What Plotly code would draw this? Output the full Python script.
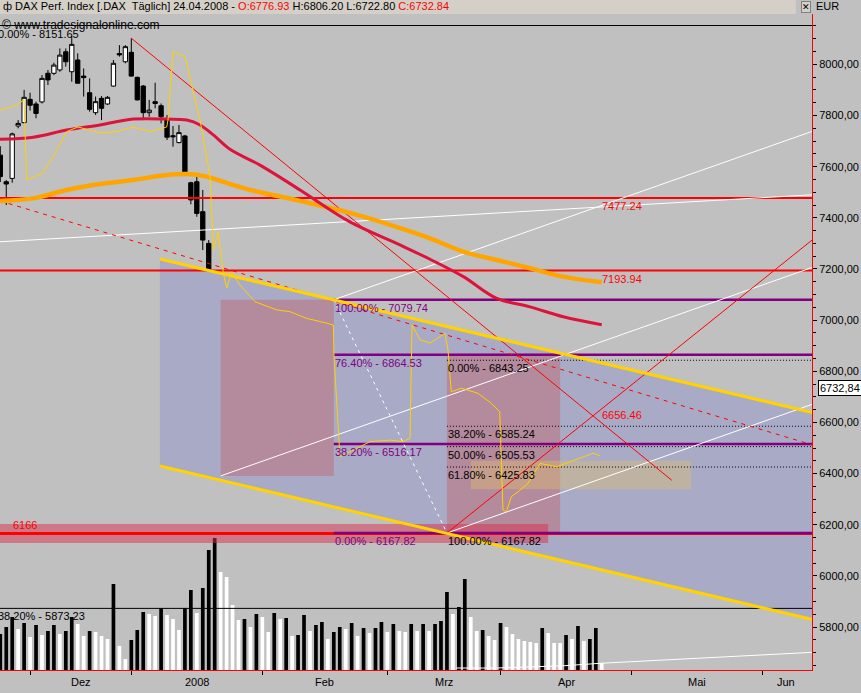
import plotly.graph_objects as go

# ---------------- data (trading-day index 0 = 26.11.2007 ... 101 = 24.04.2008) ----------------
opens = [7645, 7541, 7554, 7759, 7772, 7863, 7845, 7853, 7965, 7965,
         7978, 8049, 7971, 8017, 7954, 7889, 7811, 7867, 7845, 7915,
         8042, 8010, 8047, 7949, 7915, 7811, 7854, 7838, 7782, 7721,
         7694, 7720, 7537, 7541, 7424, 7300, 6597, 6818, 6551, 6890,
         6753, 6838, 6892, 6861, 6896, 7024, 7004, 6730, 6834, 6782,
         6727, 6796, 6916, 7029, 6972, 6870, 6935, 6935, 6935, 6896,
         6855, 6909, 7016, 6990, 6857, 6690, 6698, 6584, 6681, 6558,
         6492, 6469, 6577, 6538, 6505, 6366, 6242, 6434, 6336, 6453,
         6512, 6490, 6586, 6542, 6440, 6753, 6773, 6758, 6835, 6799,
         6756, 6714, 6740, 6571, 6535, 6625, 6720, 6707, 6847, 6792,
         6740, 6776.93]
highs = [7680, 7548, 7733, 7782, 7900, 7889, 7854, 7958, 7978, 8006,
         8062, 8062, 8111, 8043, 7984, 7945, 7874, 7876, 7876, 8017,
         8075, 8075, 8102, 7952, 7919, 7861, 7928, 7847, 7802, 7759,
         7763, 7724, 7541, 7561, 7509, 7313, 6883, 6890, 6864, 7007,
         6831, 6935, 6925, 6975, 7007, 7059, 7007, 6883, 6864, 6851,
         6805, 6981, 6988, 7059, 6988, 6994, 7079.74, 6968, 6968, 6896,
         6922, 7016, 7024, 6998, 6870, 6707, 6707, 6707, 6688, 6564,
         6545, 6577, 6668, 6629, 6629, 6371, 6469, 6466, 6382, 6538,
         6581, 6610, 6623, 6545, 6730, 6805, 6786, 6790, 6843.25, 6818,
         6792, 6792, 6740, 6590, 6590, 6714, 6746, 6851, 6851, 6825,
         6812, 6806.20]
lows = [7540, 7450, 7537, 7750, 7769, 7819, 7789, 7847, 7919, 7958,
        7971, 7991, 7932, 7926, 7874, 7815, 7802, 7782, 7841, 7913,
        8030, 8004, 7952, 7858, 7782, 7795, 7828, 7769, 7704, 7678,
        7691, 7574, 7453, 7404, 7274, 6788, 6427, 6391, 6545, 6786,
        6681, 6825, 6825, 6694, 6894, 6981, 6763, 6728, 6659, 6675,
        6703, 6746, 6909, 6961, 6831, 6868, 6930, 6864, 6883, 6766,
        6844, 6909, 6883, 6864, 6714, 6551, 6545, 6558, 6545, 6518,
        6414, 6466, 6518, 6427, 6421, 6167.82, 6238, 6290, 6277, 6449,
        6469, 6466, 6473, 6434, 6430, 6746, 6694, 6700, 6790, 6740,
        6675, 6610, 6571, 6518, 6518, 6603, 6675, 6701, 6760, 6701,
        6662, 6722.80]
closes = [7561, 7532, 7728, 7769, 7871, 7840, 7808, 7945, 7939, 7997,
          8036, 8010, 8078, 7926, 7948, 7824, 7854, 7828, 7871, 8004,
          8037, 8069, 7954, 7861, 7811, 7821, 7847, 7795, 7715, 7717,
          7733, 7580, 7470, 7417, 7313, 6792, 6773, 6443, 6825, 6818,
          6825, 6896, 6877, 6853, 6972, 7001, 6766, 6851, 6736, 6769,
          6746, 6972, 6978, 6964, 6834, 6975, 7007, 6903, 6907, 6805,
          6883, 6988, 7001, 6870, 6753, 6675, 6547, 6688, 6577, 6525,
          6453, 6558, 6610, 6499, 6453, 6182, 6427, 6362, 6323, 6515,
          6488, 6586, 6560, 6534, 6720, 6782, 6740, 6768, 6800, 6740,
          6727, 6690, 6610, 6558, 6550, 6707, 6688, 6847, 6792, 6733,
          6799, 6732.84]

volume = [36, 43, 53, 41, 47, 33, 45, 35, 39, 45,
          36, 39, 53, 46, 34, 39, 38, 34, 31, 86,
          24, 11, 30, 40, 58, 56, 54, 62, 55, 51,
          40, 62, 80, 57, 82, 120, 132, 98, 93, 65,
          50, 51, 43, 56, 53, 38, 57, 51, 52, 34,
          35, 55, 39, 45, 48, 31, 38, 43, 41, 47,
          34, 42, 37, 42, 48, 38, 46, 39, 38, 46,
          39, 46, 39, 46, 49, 78, 56, 63, 91, 53,
          39, 40, 34, 30, 47, 43, 36, 31, 29, 28,
          27, 42, 37, 27, 27, 35, 31, 44, 29, 31,
          42, 7]
vol_up = [0, 0, 0, 1, 0, 1, 0, 1, 0, 0,
          1, 0, 0, 1, 1, 0, 1, 1, 1, 0,
          1, 1, 0, 0, 0, 1, 1, 0, 1, 1,
          1, 0, 0, 1, 0, 0, 0, 1, 1, 1,
          1, 0, 1, 0, 1, 1, 0, 1, 0, 1,
          0, 0, 1, 0, 0, 1, 0, 0, 1, 0,
          1, 0, 1, 0, 0, 1, 0, 1, 1, 0,
          1, 0, 1, 0, 0, 0, 1, 0, 0, 1,
          1, 0, 1, 1, 0, 1, 1, 1, 1, 1,
          1, 0, 1, 1, 1, 0, 1, 0, 1, 0,
          0, 1]
vol_line_x = [76.5, 83.4, 94.8, 100.7, 136.5]
vol_line_y = [2, 2, 4.3, 6.7, 17.7]

# moving averages (index, value)
ma38_x = [-0.05, 5.54, 11.15, 16.74, 22.33, 27.94, 31.3, 33.54, 35.77, 38.57,
          43.61, 50.33, 58.72, 67.12, 72.16, 77.75, 83.36, 88.95, 94.54, 100.99]
ma38_y = [7707, 7715, 7743, 7763, 7786, 7786, 7782, 7763, 7724, 7668,
          7606, 7509, 7384, 7294, 7238, 7170, 7085, 7052, 7013, 6982]
ma200_x = [-0.05, 5.49, 11.15, 16.74, 22.28, 27.94, 31.3, 34.66, 38.57, 41.93,
           50.33, 58.72, 67.12, 72.16, 77.7, 83.36, 88.95, 94.49, 100.99]
ma200_y = [7466, 7476, 7509, 7532, 7548, 7567, 7571, 7561, 7532, 7509,
           7466, 7419, 7360, 7320, 7268, 7235, 7203, 7170, 7148]
ind_x = [-0.05, 2.75, 3.98, 4.43, 7.17, 8.85, 11.15, 13.05, 16.74, 19.55,
         22.28, 25.14, 27.94, 28.16, 29.0, 31.02, 33.54, 35.22, 35.8, 36.56,
         37.45, 38.02, 38.86, 40.25, 42.77, 46.42, 48.65, 51.45, 54.81, 55.92,
         56.04, 57.04, 62.08, 65.44, 67.62, 68.8, 69.14, 70.48, 72.16, 74.68,
         75.18, 75.73, 77.41, 80.22, 82.45, 83.86, 84.41, 84.97, 85.81, 86.94,
         88.61, 90.63, 93.43, 95.67, 99.58, 100.71]
ind_y = [7821, 7841, 7861, 7548, 7575, 7638, 7737, 7755, 7732, 7737,
         7755, 7737, 7755, 7782, 8049, 8030, 7782, 7561, 7274, 7345,
         7184, 7126, 7188, 7137, 7072, 7040, 7033, 7007, 6988, 6981,
         6857, 6466, 6525, 6531, 6525, 6538, 6981, 6923, 6910, 6949,
         6883, 6720, 6734, 6714, 6675, 6642, 6258, 6251, 6310, 6329,
         6362, 6440, 6427, 6447, 6480, 6469]

# drawings: horizontal levels
top_fib = [8151.65, 5873.23]
top_fib_txt = ["0.00% - 8151.65", "38.20% - 5873.23"]
res_levels = [7477.24, 7193.94]
support_level = 6166
fib1_levels = [7079.74, 6864.53, 6516.17, 6167.82]
fib1_txt = ["100.00% - 7079.74", "76.40% - 6864.53", "38.20% - 6516.17", "0.00% - 6167.82"]
fib2_levels = [6843.25, 6585.24, 6505.53, 6425.83, 6167.82]
fib2_txt = ["0.00% - 6843.25", "38.20% - 6585.24", "50.00% - 6505.53", "61.80% - 6425.83",
            "100.00% - 6167.82"]
fib1_start, fib2_start = 56, 75

# drawings: channels / trend lines as (index, price) endpoints
chan_x = [26.8, 140.0]
chan_upper = [7239, 6619]
chan_lower = [6430, 5810]
down_line_x, down_line_y = [22, 112.75], [8102, 6374]
up_line_x, up_line_y = [75, 140], [6167.82, 7382]
dash_line_x, dash_line_y = [-0.05, 140], [7466, 6487]
white_flat_x, white_flat_y = [-1, 140], [7305, 7495]
white_ch_x = [[37, 140], [56, 140], [75, 140]]
white_ch_y = [[6391, 7236], [7079.74, 7768], [6167.82, 6701]]
white_dash_x, white_dash_y = [56, 75], [7079.74, 6167.82]
box1_x, box1_y = [37, 56], [6391, 7080]
box2_x, box2_y = [75, 94], [6167.82, 6870]
tan_x, tan_y = [79, 116], [6339, 6450]
band_x, band_y = [-1, 92], [6129, 6203]
label_6656 = 6656.46

month_ticks = [5, 22, 44, 65, 84, 106, 128]
month_lbl_pos = [13.5, 33, 54.5, 74.5, 95, 117, 132]
month_lbl = ["Dez", "2008", "Feb", "Mrz", "Apr", "Mai", "Jun"]
price_ticks = [5800, 6000, 6200, 6400, 6600, 6800, 7000, 7200, 7400, 7600, 7800, 8000]

X_RANGE = [-0.05, 136.3]
P_RANGE = [5632.4, 8196.7]
V_RANGE = [0, 656]
FONT = "Liberation Sans"

idx = list(range(len(closes)))
fig = go.Figure()

def line(x, y, color, width=1, dash=None, shape=None):
    fig.add_trace(go.Scatter(x=x, y=y, mode="lines", yaxis="y2", hoverinfo="skip",
                             line=dict(color=color, width=width, dash=dash, shape=shape),
                             showlegend=False))

def rect(x, y, color):
    fig.add_trace(go.Scatter(x=[x[0], x[1], x[1], x[0], x[0]], y=[y[0], y[0], y[1], y[1], y[0]],
                             mode="lines", fill="toself", fillcolor=color, line=dict(width=0),
                             yaxis="y2", hoverinfo="skip", showlegend=False))

# volume (primary y)
fig.add_trace(go.Bar(x=idx, y=volume, width=0.62, yaxis="y",
                     marker=dict(color=["white" if u else "black" for u in vol_up], line=dict(width=0)),
                     showlegend=False, hoverinfo="skip"))
fig.add_trace(go.Scatter(x=vol_line_x, y=vol_line_y, mode="lines", yaxis="y",
                         line=dict(color="white", width=1), showlegend=False, hoverinfo="skip"))

# channel fill
fig.add_trace(go.Scatter(x=[chan_x[0], chan_x[1], chan_x[1], chan_x[0], chan_x[0]],
                         y=[chan_upper[0], chan_upper[1], chan_lower[1], chan_lower[0], chan_upper[0]],
                         mode="lines", fill="toself", fillcolor="#A9AAC6", line=dict(width=0),
                         yaxis="y2", hoverinfo="skip", showlegend=False))

# candles
fig.add_trace(go.Candlestick(x=idx, open=opens, high=highs, low=lows, close=closes, yaxis="y2",
                             increasing=dict(line=dict(color="black", width=1), fillcolor="white"),
                             decreasing=dict(line=dict(color="black", width=1), fillcolor="black"),
                             whiskerwidth=0, showlegend=False, hoverinfo="skip"))

# translucent boxes
rect(box1_x, box1_y, "rgba(200,79,81,0.35)")
rect(box2_x, box2_y, "rgba(200,79,81,0.35)")
rect(tan_x, tan_y, "rgba(222,190,110,0.40)")
rect(band_x, band_y, "rgba(218,48,78,0.5)")

# horizontal levels
for lv in top_fib:
    line([-1, 140], [lv, lv], "black", 1)
for lv in res_levels:
    line([-1, 140], [lv, lv], "#FF0000", 2)
line([-1, 140], [support_level, support_level], "#FF0000", 3)
for lv in fib1_levels:
    line([fib1_start, 140], [lv, lv], "#800080", 2.5)
for lv in fib2_levels[:-1]:
    line([fib2_start, 140], [lv, lv], "black", 1, "1px,2px")

# trend lines
line(white_flat_x, white_flat_y, "white", 1)
for xs, ys in zip(white_ch_x, white_ch_y):
    line(xs, ys, "white", 1)
line(white_dash_x, white_dash_y, "white", 1, "3px,4px")
line(dash_line_x, dash_line_y, "#FF0000", 1, "4px,5px")
line(down_line_x, down_line_y, "#FF0000", 1)
line(up_line_x, up_line_y, "#FF0000", 1)
line(chan_x, chan_upper, "#FFD200", 3)
line(chan_x, chan_lower, "#FFD200", 3)

# moving averages / indicator
line(ma200_x, ma200_y, "#FFA500", 4.5, shape="spline")
line(ma38_x, ma38_y, "#DC143C", 3, shape="spline")
line(ind_x, ind_y, "#FFD200", 1)

ann = []
def txt(x, y, s, color, xanchor="left", yanchor="top", xref="x", yref="y2", xshift=0, yshift=0, size=11):
    ann.append(dict(x=x, y=y, xref=xref, yref=yref, text=s, showarrow=False, xanchor=xanchor,
                    yanchor=yanchor, xshift=xshift, yshift=yshift,
                    font=dict(color=color, size=size, family=FONT), borderpad=0))

for lv, s in zip(top_fib, top_fib_txt):
    ann.append(dict(x=0, y=lv, xref="paper", yref="y2", text=s, showarrow=False, xanchor="left",
                    yanchor="top", xshift=-3, yshift=-1, borderpad=0,
                    font=dict(color="black", size=11, family=FONT)))
for lv in res_levels:
    txt(100.9, lv, f"{lv:.2f}", "#FF0000", yshift=-1)
txt(2.0, support_level, str(support_level), "#FF0000", yanchor="bottom", yshift=1)
for lv, s in zip(fib1_levels, fib1_txt):
    txt(fib1_start, lv, s, "#800080", yshift=-1)
for lv, s in zip(fib2_levels, fib2_txt):
    txt(fib2_start, lv, s, "black", yshift=-1)
txt(100.9, label_6656, f"{label_6656:.2f}", "#FF0000")

# month labels
for p, s in zip(month_lbl_pos, month_lbl):
    ann.append(dict(x=p, y=0, xref="x", yref="paper", text=s, showarrow=False, yanchor="top",
                    yshift=-4, font=dict(color="black", size=11, family=FONT)))

# last price marker
ann.append(dict(x=1, y=closes[-1], xref="paper", yref="y2", text=f"{closes[-1]:.2f}".replace(".", ","),
                showarrow=False, xanchor="left", xshift=6, bgcolor="white", bordercolor="black",
                borderwidth=1, borderpad=1, font=dict(color="black", size=11, family=FONT)))

# header
ann.append(dict(x=0, y=1, xref="paper", yref="paper", yanchor="bottom", xanchor="left", showarrow=False,
                xshift=1, yshift=0,
                text="ф DAX Perf. Index [.DAX\u00a0 Täglich] 24.04.2008 - <span style='color:#FF0000'>O:6776.93</span>"
                     " H:6806.20 L:6722.80 <span style='color:#FF0000'>C:6732.84</span>",
                font=dict(color="black", size=11, family=FONT)))
ann.append(dict(x=1, y=1, xref="paper", yref="paper", yanchor="bottom", xanchor="left", showarrow=False,
                xshift=2, text="EUR", font=dict(color="black", size=11, family=FONT)))
ann.append(dict(x=1, y=1, xref="paper", yref="paper", yanchor="bottom", xanchor="right", showarrow=False,
                xshift=-1, yshift=1, text="✕", bgcolor="#D4D0C8", bordercolor="#808080", borderwidth=1,
                borderpad=0, font=dict(color="black", size=9, family=FONT)))
ann.append(dict(x=0, y=8151.65, xref="paper", yref="y2", yanchor="middle", xanchor="left", showarrow=False,
                xshift=0, yshift=1, text="© www.tradesignalonline.com",
                font=dict(color="black", size=12, family=FONT)))

fig.update_layout(
    width=861, height=693,
    margin=dict(l=0, r=49, t=14, b=23),
    paper_bgcolor="#C0C0C0", plot_bgcolor="#C0C0C0",
    showlegend=False, boxgap=0.15, boxgroupgap=0.15,
    annotations=ann,
    shapes=[dict(type="rect", xref="paper", yref="paper", x0=0, x1=0.98, y0=1.0, y1=1.03,
                 fillcolor="#D4D0C8", line=dict(width=0), layer="below")],
    xaxis=dict(range=X_RANGE, showgrid=False, zeroline=False, showline=True, linecolor="#FF0000",
               linewidth=1, tickvals=month_ticks, ticktext=[""] * len(month_ticks), ticks="outside",
               ticklen=4, tickcolor="black", rangeslider=dict(visible=False), fixedrange=True),
    yaxis=dict(range=V_RANGE, visible=False, showgrid=False, zeroline=False, fixedrange=True),
    yaxis2=dict(range=P_RANGE, overlaying="y", side="right", anchor="x", showgrid=False, zeroline=False,
                showline=True, linecolor="#FF0000", linewidth=1, tickvals=price_ticks,
                ticktext=[f"{t},00" for t in price_ticks], ticks="outside", ticklen=4, tickcolor="black",
                tickfont=dict(color="black", size=11, family=FONT),
                minor=dict(tickvals=[v for v in range(5650, 8200, 50) if v % 200], ticks="outside",
                           ticklen=3, tickcolor="black")),
    font=dict(family=FONT, color="black", size=11),
)

fig.write_html("out.html", config={"displayModeBar": False},
               post_script="document.body.style.margin='0';document.body.style.overflow='hidden';")
